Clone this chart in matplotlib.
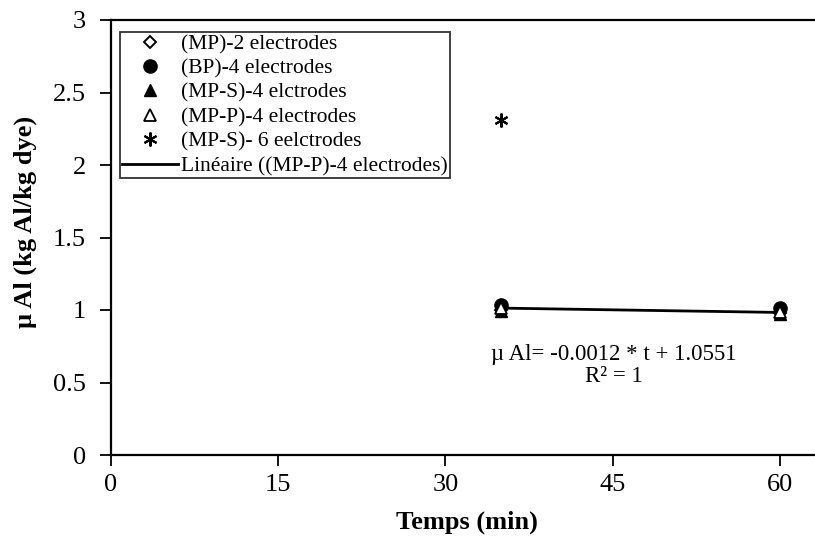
import matplotlib
matplotlib.use("Agg")
import matplotlib.pyplot as plt
import numpy as np

plt.rcParams['font.family'] = ['Liberation Serif', 'DejaVu Serif']

t = [35, 60]
mp2 = [1.00, 0.98]
bp4 = [1.035, 1.015]
mps4 = [0.99, 0.97]
mpp4 = [1.0131, 0.9831]
t6 = [35]
mps6 = [2.31]
slope, intercept = -0.0012, 1.0551

xticks = [0, 15, 30, 45, 60]
yticks = [0, 0.5, 1, 1.5, 2, 2.5, 3]
ytick_labels = ['0', '0.5', '1', '1.5', '2', '2.5', '3']

fig = plt.figure(figsize=(8.15, 5.38), dpi=100)
ax = fig.add_axes([111/815, 1 - 455/538, 1 - 111/815, (455-20)/538])

ax.plot(t, mp2, linestyle='none', marker='D', markersize=6, markerfacecolor='white',
        markeredgecolor='black', markeredgewidth=1.4, label='(MP)-2 electrodes', zorder=3)
ax.plot(t, bp4, linestyle='none', marker='o', markersize=9.5, color='black',
        label='(BP)-4 electrodes', zorder=3)
ax.plot(t, mps4, linestyle='none', marker='^', markersize=8.5, color='black',
        label='(MP-S)-4 elctrodes', zorder=3)
ax.plot(t, mpp4, linestyle='none', marker='^', markersize=8, markerfacecolor='white',
        markeredgecolor='black', markeredgewidth=1.3, label='(MP-P)-4 electrodes', zorder=3)
ax.plot(t6, mps6, linestyle='none', marker=(6, 2, 0), markersize=10, color='black',
        markeredgewidth=1.5, label='(MP-S)- 6 eelctrodes', zorder=3)
tl = np.array(t)
ax.plot(tl, slope * tl + intercept, color='black', linewidth=2,
        label='Linéaire ((MP-P)-4 electrodes)', zorder=2)

ax.set_xlim(0, 63.14)
ax.set_ylim(0, 3)
ax.set_xticks(xticks)
ax.set_yticks(yticks)
ax.set_yticklabels(ytick_labels)
ax.tick_params(axis='both', direction='out', length=8, width=1.3, labelsize=19)
ax.tick_params(axis='y', pad=10)
ax.tick_params(axis='x', pad=6)
for s in ['left', 'bottom', 'top']:
    ax.spines[s].set_linewidth(1.6)
ax.spines['right'].set_visible(False)

ax.set_xlabel('Temps (min)', fontsize=19, fontweight='bold')
ax.xaxis.set_label_coords((467-111)/704, -(522-455)/435)
ax.xaxis.label.set_va('center')
ax.set_ylabel('µ Al (kg Al/kg dye)', fontsize=19, fontweight='bold')
ax.yaxis.set_label_coords((25-111)/704, (455-222)/435)
ax.yaxis.label.set_va('center')

ax.text(45.1, 0.765, 'µ Al= -0.0012 * t + 1.0551\nR² = 1', ha='center', va='top',
        fontsize=16.5, linespacing=1.08, multialignment='center')

leg = ax.legend(loc='upper left', bbox_to_anchor=(9/704, 1 - 12/435), fontsize=15.5,
                frameon=True, fancybox=False, edgecolor='black', handlelength=2.6,
                handletextpad=0.12, borderpad=0.1, labelspacing=0.2, borderaxespad=0)
leg.get_frame().set_linewidth(1.3)

fig.savefig('out.png', dpi=100)
